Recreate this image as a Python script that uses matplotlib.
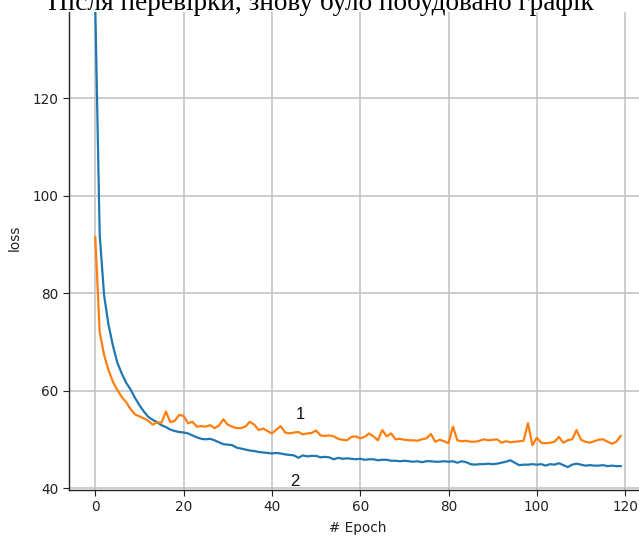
import matplotlib
matplotlib.use("Agg")
import matplotlib.pyplot as plt
from matplotlib.patches import Rectangle

epochs = list(range(120))

val_loss = [
    91.5, 72.0, 67.3, 64.2, 61.8, 60.1, 58.7, 57.6, 56.2, 55.1,
    54.7, 54.3, 53.8, 53.0, 53.5, 53.4, 55.7, 53.5, 53.8, 55.0,
    54.8, 53.3, 53.6, 52.6, 52.7, 52.6, 52.9, 52.3, 52.8, 54.1,
    53.0, 52.6, 52.3, 52.3, 52.6, 53.6, 53.0, 51.9, 52.2, 51.7,
    51.2, 52.0, 52.7, 51.4, 51.2, 51.4, 51.5, 51.0, 51.2, 51.3,
    51.8, 50.8, 50.7, 50.8, 50.6, 50.1, 49.9, 49.8, 50.5, 50.6,
    50.2, 50.5, 51.2, 50.6, 49.8, 51.9, 50.6, 51.2, 50.0, 50.1,
    49.9, 49.8, 49.8, 49.7, 50.0, 50.2, 51.1, 49.5, 49.9, 49.6,
    49.2, 52.6, 49.8, 49.6, 49.7, 49.5, 49.5, 49.7, 50.0, 49.8,
    49.9, 50.0, 49.3, 49.6, 49.4, 49.5, 49.6, 49.7, 53.3, 48.8,
    50.3, 49.3, 49.2, 49.3, 49.5, 50.5, 49.3, 49.8, 50.0, 51.9,
    49.9, 49.5, 49.3, 49.6, 49.9, 50.0, 49.5, 49.1, 49.5, 50.7,
]

train_loss = [
    138.5, 92.0, 79.5, 73.5, 69.2, 65.7, 63.5, 61.6, 60.2, 58.5,
    57.0, 55.7, 54.6, 54.0, 53.5, 52.9, 52.5, 52.0, 51.7, 51.5,
    51.4, 51.2, 50.8, 50.4, 50.1, 50.0, 50.1, 49.8, 49.4, 49.0,
    48.9, 48.8, 48.3, 48.1, 47.9, 47.7, 47.6, 47.4, 47.3, 47.2,
    47.1, 47.2, 47.1, 46.9, 46.8, 46.7, 46.2, 46.7, 46.5, 46.6,
    46.6, 46.3, 46.4, 46.3, 45.9, 46.2, 46.0, 46.1, 46.0, 45.9,
    46.0, 45.8, 45.9, 45.9, 45.7, 45.8, 45.8, 45.6, 45.6, 45.5,
    45.6, 45.5, 45.4, 45.5, 45.3, 45.5, 45.5, 45.4, 45.4, 45.5,
    45.4, 45.5, 45.2, 45.5, 45.3, 44.9, 44.8, 44.9, 44.9, 45.0,
    44.9, 45.0, 45.2, 45.4, 45.7, 45.2, 44.7, 44.8, 44.8, 44.9,
    44.8, 44.9, 44.6, 44.9, 44.8, 45.1, 44.7, 44.3, 44.8, 45.0,
    44.8, 44.6, 44.7, 44.6, 44.6, 44.7, 44.5, 44.6, 44.5, 44.5,
]

xticks = [0, 20, 40, 60, 80, 100, 120]
yticks = [40, 60, 80, 100, 120]
title_text = "Після перевірки, знову було побудовано графік"

W, H = 639, 537
fig = plt.figure(figsize=(W / 100, H / 100), dpi=100)
ax = fig.add_axes([69 / W, 47 / H, 578 / W, 505 / H])

ax.plot(epochs, train_loss, color="#1f77b4", lw=1.6, zorder=3)
ax.plot(epochs, val_loss, color="#ff7f0e", lw=1.6, zorder=3)

ax.set_xlim(-5.95, 124.95)
ax.set_ylim(39.6, 143.2)
ax.set_xticks(xticks)
ax.set_yticks(yticks)
ax.grid(True, color="#c0c0c0", lw=1.1)
ax.set_axisbelow(True)
for s in ["top", "right"]:
    ax.spines[s].set_visible(False)
for s in ["left", "bottom"]:
    ax.spines[s].set_color("#222222")
    ax.spines[s].set_linewidth(1.0)
ax.tick_params(labelsize=9.8, colors="#222222", length=4)
ax.set_xlabel("# Epoch", fontsize=9.8, color="#222222", labelpad=5)
ax.set_ylabel("loss", fontsize=9.8, color="#222222", labelpad=8)

ax.text(46.5, 55.0, "1", fontsize=12, family="Liberation Sans", ha="center", va="center", color="#111111")
ax.text(45.2, 41.4, "2", fontsize=12, family="Liberation Sans", ha="center", va="center", color="#111111")

# Document text band at the top (cropped in the original screenshot)
fig.patches.append(Rectangle((0, 1 - 12 / H), 1, 12 / H, transform=fig.transFigure,
                             facecolor="white", edgecolor="none", zorder=10))
fig.text(321 / W, 1 - 10 / H, title_text, family="Liberation Serif", fontsize=19.6,
         ha="center", va="baseline", color="black", zorder=11)

fig.savefig("out.png", dpi=100)
